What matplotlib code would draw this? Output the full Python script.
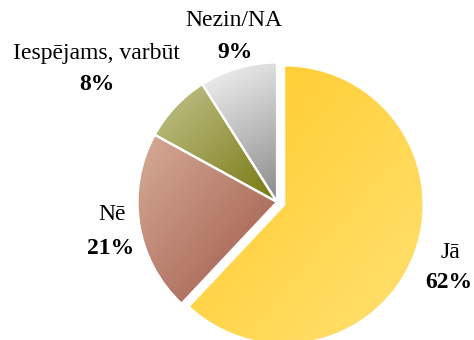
import numpy as np
import matplotlib
matplotlib.use("Agg")
import matplotlib.pyplot as plt
from matplotlib.colors import LinearSegmentedColormap

# Survey answers and their shares (%)
categories = ["Jā", "Nē", "Iespējams, varbūt", "Nezin/NA"]
values = [62, 21, 8, 9]

# Two-stop gradient for each slice: (start colour, end colour, direction)
gradients = [
    ("#FFC928", "#FFE272", (1.0, -1.0)),
    ("#D6AC98", "#9E5646", (1.0, -1.0)),
    ("#C4C48E", "#767810", (1.0, -1.0)),
    ("#F6F6F6", "#8A8A8A", (0.3, -1.0)),
]
explode_frac = [0.055, 0, 0, 0]

# Label placements (figure pixel coordinates: x, y from top)
label_pos = [(450, 252), (112, 215), (96, 53), (234, 20)]
pct_pos = [(449, 283), (111, 248), (97, 85), (235, 52)]

W, H = 474, 340
fig = plt.figure(figsize=(W / 100, H / 100), dpi=100)
ax = fig.add_axes([0, 0, 1, 1])

cx, cy, r = 277, H - 202, 139.5
wedges, _ = ax.pie(values, startangle=90, counterclock=False,
                   explode=[e * r for e in explode_frac],
                   center=(cx, cy), radius=r,
                   wedgeprops=dict(edgecolor="white", linewidth=1.6))

ax.set_xlim(0, W)
ax.set_ylim(0, H)
ax.set_aspect("equal")
ax.axis("off")

# Fill every wedge with a linear gradient clipped to its outline
for w, (c0, c1, (dx, dy)) in zip(wedges, gradients):
    w.set_facecolor("none")
    bb = w.get_path().get_extents(w.get_transform() + ax.transData.inverted())
    x0, x1, y0, y1 = bb.x0, bb.x1, bb.y0, bb.y1
    n = 200
    X, Y = np.meshgrid(np.linspace(0, 1, n), np.linspace(0, 1, n))
    # image row 0 is the top (origin='upper'), so flip Y to go upward
    t = X * dx + (1 - Y) * dy
    t = (t - t.min()) / (t.max() - t.min())
    cmap = LinearSegmentedColormap.from_list("g", [c0, c1])
    im = ax.imshow(t, cmap=cmap, extent=(x0, x1, y0, y1), origin="upper",
                   interpolation="bilinear", zorder=1, aspect="auto")
    im.set_clip_path(w)
    w.set_zorder(2)

ax.set_xlim(0, W)
ax.set_ylim(0, H)

font = "Liberation Serif"
for name, v, (lx, ly), (px, py) in zip(categories, values, label_pos, pct_pos):
    ax.text(lx, H - ly, name, ha="center", va="center", fontsize=17,
            family=font, color="black")
    ax.text(px, H - py, f"{v}%", ha="center", va="center", fontsize=17,
            family=font, fontweight="bold", color="black")

fig.savefig("out.png", dpi=100)
